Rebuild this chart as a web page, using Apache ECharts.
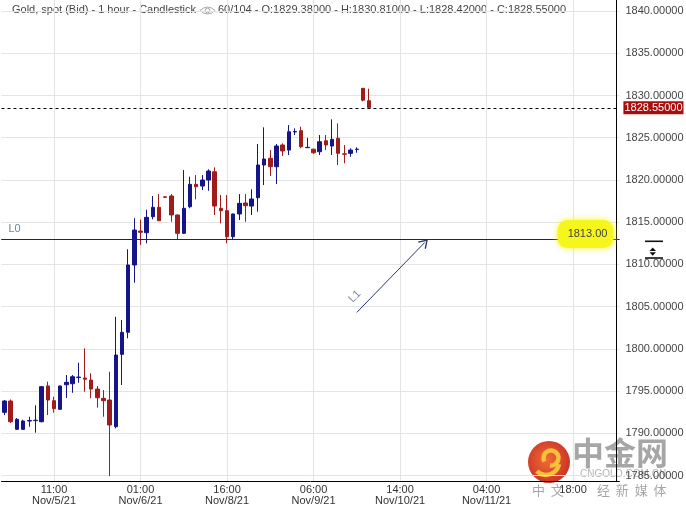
<!DOCTYPE html>
<html><head><meta charset="utf-8">
<script src="https://cdn.jsdelivr.net/npm/echarts@6/dist/echarts.min.js"></script>
<style>html,body{margin:0;padding:0;background:#fff}#c{width:686px;height:506px}</style>
</head><body><div id="c"></div>
<script>
// ---- data (hourly candles, slot 0 .. 59) ----
const opens  = [1792.48,1793.82,1790.47,1790.47,1791.45,1791.50,1791.37,1795.60,1793.86,1792.84,
                1795.75,1795.87,1796.60,1796.55,1796.31,1795.24,1794.14,1793.94,1790.78,1799.35,
                1801.96,1809.93,1813.95,1813.75,1815.65,1816.76,1818.00,1818.10,1815.85,1813.68,
                1816.83,1819.48,1819.28,1819.99,1820.97,1816.64,1816.36,1813.28,1815.97,1817.27,
                1816.91,1817.90,1821.77,1822.56,1821.57,1824.14,1823.54,1825.68,1825.83,1823.82,
                1823.64,1823.34,1824.64,1824.02,1824.93,1823.10,1823.15,1823.61,1830.85,1829.38];
const closes = [1793.82,1791.37,1791.65,1791.45,1791.52,1791.55,1795.52,1793.94,1792.91,1795.60,
                1796.04,1796.70,1796.66,1796.40,1795.24,1794.21,1793.86,1790.98,1799.27,1801.96,
                1809.93,1814.07,1813.80,1815.57,1816.76,1815.17,1817.95,1815.85,1813.68,1816.64,
                1819.48,1819.20,1819.99,1821.06,1816.91,1816.36,1813.28,1815.97,1817.23,1816.95,
                1817.74,1821.77,1822.48,1821.57,1824.02,1823.43,1825.71,1825.74,1823.93,1823.86,
                1823.22,1824.53,1824.14,1824.81,1823.15,1823.05,1823.54,1823.65,1829.45,1828.55];
const lows   = [1792.16,1791.22,1790.40,1790.40,1790.78,1790.07,1791.30,1792.16,1792.44,1792.80,
                1794.18,1794.80,1795.99,1794.92,1794.14,1793.03,1791.96,1784.94,1790.59,1795.72,
                1801.25,1807.83,1812.30,1812.50,1815.34,1815.17,1817.90,1815.05,1813.00,1813.60,
                1816.64,1817.71,1818.81,1818.72,1815.85,1814.86,1812.50,1812.89,1815.25,1815.05,
                1815.85,1816.24,1819.40,1820.46,1819.52,1822.83,1822.95,1825.32,1823.75,1823.80,
                1823.10,1822.95,1823.54,1822.95,1821.77,1821.97,1822.75,1823.22,1829.30,1828.42];
const highs  = [1793.94,1794.00,1791.80,1791.60,1791.96,1793.31,1795.60,1796.11,1794.33,1795.65,
                1796.90,1796.90,1798.36,1800.06,1797.10,1795.60,1795.12,1797.29,1803.80,1803.41,
                1811.79,1815.46,1815.30,1816.47,1818.10,1818.33,1818.05,1818.33,1815.90,1821.18,
                1820.38,1820.58,1820.58,1821.26,1821.49,1818.22,1818.22,1816.00,1818.33,1818.33,
                1818.89,1824.25,1826.23,1823.54,1824.25,1824.34,1826.50,1826.11,1826.30,1824.99,
                1823.70,1825.32,1825.32,1827.18,1826.70,1824.14,1823.75,1823.86,1830.85,1830.81];
const slotCount = 100;                       // hourly slots shown on the x axis
const tickIndex = [8, 22, 36, 50, 64, 78, 92];
const tickTime  = ['11:00','01:00','16:00','06:00','14:00','04:00','18:00'];
const tickDate  = ['Nov/5/21','Nov/6/21','Nov/8/21','Nov/9/21','Nov/10/21','Nov/11/21',''];
const yTicks    = [1785,1790,1795,1800,1805,1810,1815,1820,1825,1830,1835,1840];
const yMin = 1784.35, yMax = 1841.31;
const lastPrice = 1828.55;
const levelL0 = 1813.00;
const l1Start = [57, 1804.31];
const l1End   = [68, 1812.60];
const header1 = 'Gold, spot (Bid) - 1 hour - Candlestick';
const header2 = '60/104 - O:1829.38000 - H:1830.81000 - L:1828.42000 - C:1828.55000';

const FONT = 'Liberation Sans, Arial, sans-serif';
const CJK = 'Noto Sans CJK SC, sans-serif';
const UP = '#15158a', DOWN = '#a21b1b';
const L0COLOR = '#1e1e6e';

const categories = Array.from({length: slotCount}, (_, i) => 'slot' + i);
const candles = opens.map((o, i) => [o, closes[i], lows[i], highs[i]]);

const chart = echarts.init(document.getElementById('c'), null, {renderer: 'canvas'});
chart.setOption({
  animation: false,
  backgroundColor: '#fff',
  grid: {left: 1.48, right: 66.6, top: 0, bottom: 25, containLabel: false, outerBoundsMode: 'none'},
  xAxis: {
    type: 'category', data: categories, boundaryGap: true,
    axisLine: {show: true, lineStyle: {color: '#000', width: 1}},
    axisTick: {show: false},
    splitLine: {show: false},
    axisLabel: {
      interval: (i) => tickIndex.indexOf(i) >= 0,
      formatter: (v, i) => { const k = tickIndex.indexOf(i); return k < 0 ? '' : tickTime[k] + (tickDate[k] ? '\n' + tickDate[k] : ''); },
      color: '#333', fontSize: 11, lineHeight: 11, margin: 3, fontFamily: FONT, hideOverlap: false
    }
  },
  yAxis: {
    type: 'value', position: 'right', min: yMin, max: yMax, offset: -3,
    axisLine: {show: true, lineStyle: {color: '#000', width: 1}},
    axisTick: {show: false, customValues: yTicks},
    axisLabel: {customValues: yTicks, formatter: (v) => v.toFixed(5), color: '#444', fontSize: 11, margin: 9, fontFamily: FONT},
    splitLine: {show: true, lineStyle: {color: '#e4e4e4', width: 1}}
  },
  series: [
    {
      type: 'line', data: [], z: 1,
      markLine: {
        z: 1, silent: true, animation: false, symbol: ['none', 'none'], label: {show: false},
        lineStyle: {color: '#e4e4e4', type: 'solid', width: 1},
        data: tickIndex.map(i => ({xAxis: i}))
      }
    },
    {
      type: 'candlestick', data: candles, barWidth: 4, z: 2,
      itemStyle: {color: UP, color0: DOWN, borderColor: UP, borderColor0: DOWN, borderWidth: 1},
      markLine: {
        silent: true, animation: false, symbol: ['none', 'none'],
        data: [
          {yAxis: lastPrice, lineStyle: {color: '#000', type: [3, 3], width: 1},
           label: {show: true, position: 'end', distance: 4, formatter: lastPrice.toFixed(5), color: '#fff',
                   backgroundColor: '#a80e0e', padding: [1, 1, 1, 1], fontSize: 11, fontFamily: FONT}},
          {yAxis: levelL0, lineStyle: {color: L0COLOR, type: 'solid', width: 1},
           label: {show: true, position: 'insideStartTop', distance: [7, 5], formatter: 'L0', color: '#6b84a6', fontSize: 11, fontFamily: FONT}},
          {yAxis: levelL0, lineStyle: {color: L0COLOR, type: 'solid', width: 1},
           label: {show: true, position: 'insideEndTop', distance: [6, -9], formatter: levelL0.toFixed(2),
                   backgroundColor: '#f6f61c', padding: [8, 6, 9, 10], borderRadius: 10,
                   shadowColor: '#f6f61c', shadowBlur: 6, color: '#444', fontSize: 11, fontFamily: FONT}},
          [
            {coord: l1Start, symbol: 'none', lineStyle: {color: '#2b356e', type: 'solid', width: 1},
             label: {show: true, position: 'insideStartTop', distance: [4, 7], formatter: 'L1', color: '#7a8ca6', fontSize: 11, fontFamily: FONT}},
            {coord: l1End, symbol: 'path://M5,0 L10,9 L8.8,9.6 L5,2.6 L1.2,9.6 L0,9 Z', symbolSize: [11, 9], itemStyle: {color: '#2b356e'}}
          ]
        ]
      }
    }
  ],
  graphic: [
    {type: 'text', x: 12, y: 10, style: {text: header1, font: '11px ' + FONT, fill: '#444', verticalAlign: 'middle'}},
    {type: 'bezierCurve', shape: {x1: 200, y1: 10.5, x2: 215, y2: 10.5, cpx1: 207.5, cpy1: 3.5}, style: {stroke: '#aaa', lineWidth: 1, fill: null}},
    {type: 'bezierCurve', shape: {x1: 200, y1: 10.5, x2: 215, y2: 10.5, cpx1: 207.5, cpy1: 17.5}, style: {stroke: '#aaa', lineWidth: 1, fill: null}},
    {type: 'circle', shape: {cx: 207.5, cy: 10.5, r: 2.3}, style: {stroke: '#aaa', lineWidth: 1, fill: '#fff'}},
    {type: 'text', x: 218, y: 10, style: {text: header2, font: '11px ' + FONT, fill: '#444', verticalAlign: 'middle'}},
    // axis range icon
    {type: 'rect', shape: {x: 645, y: 240.5, width: 18, height: 1.6}, style: {fill: '#111'}},
    {type: 'polygon', shape: {points: [[649.5, 251], [656, 251], [652.75, 247.5]]}, style: {fill: '#111'}},
    {type: 'polygon', shape: {points: [[649.5, 252.3], [656, 252.3], [652.75, 255.8]]}, style: {fill: '#111'}},
    {type: 'rect', shape: {x: 645, y: 257.2, width: 18, height: 4}, style: {fill: '#fff'}},
    {type: 'rect', shape: {x: 645, y: 257.2, width: 18, height: 1.6}, style: {fill: '#111'}},
    // watermark
    {type: 'group', z: 100, children: [
      {type: 'circle', shape: {cx: 549, cy: 462, r: 21},
       style: {fill: new echarts.graphic.RadialGradient(0.45, 0.45, 0.6, [{offset: 0, color: '#f0642a'}, {offset: 1, color: '#c6261a'}]), opacity: 0.95}},
      {type: 'arc', shape: {cx: 551, cy: 458, r: 7.5, startAngle: Math.PI * 0.85, endAngle: Math.PI * 2.55},
       style: {stroke: '#f8c03a', lineWidth: 4.5, fill: null}},
      {type: 'arc', shape: {cx: 546, cy: 462, r: 13, startAngle: Math.PI * 0.05, endAngle: Math.PI * 0.75},
       style: {stroke: '#f8c03a', lineWidth: 4.5, fill: null}},
      {type: 'text', x: 572, y: 453, style: {text: '中金网', font: 'bold 32px ' + CJK, fill: 'rgba(150,150,150,0.85)', verticalAlign: 'middle'}},
      {type: 'text', x: 580, y: 474, style: {text: 'CNGOLD.COM.CN', font: '10px ' + FONT, fill: 'rgba(160,160,160,0.8)', verticalAlign: 'middle'}},
      {type: 'text', x: 532, y: 490, style: {text: '中  文', font: '13px ' + CJK, fill: 'rgba(150,150,150,0.85)', verticalAlign: 'middle'}},
      {type: 'text', x: 597, y: 490, style: {text: '经  新  媒  体', font: '13px ' + CJK, fill: 'rgba(150,150,150,0.85)', verticalAlign: 'middle'}}
    ]}
  ]
});
</script></body></html>
